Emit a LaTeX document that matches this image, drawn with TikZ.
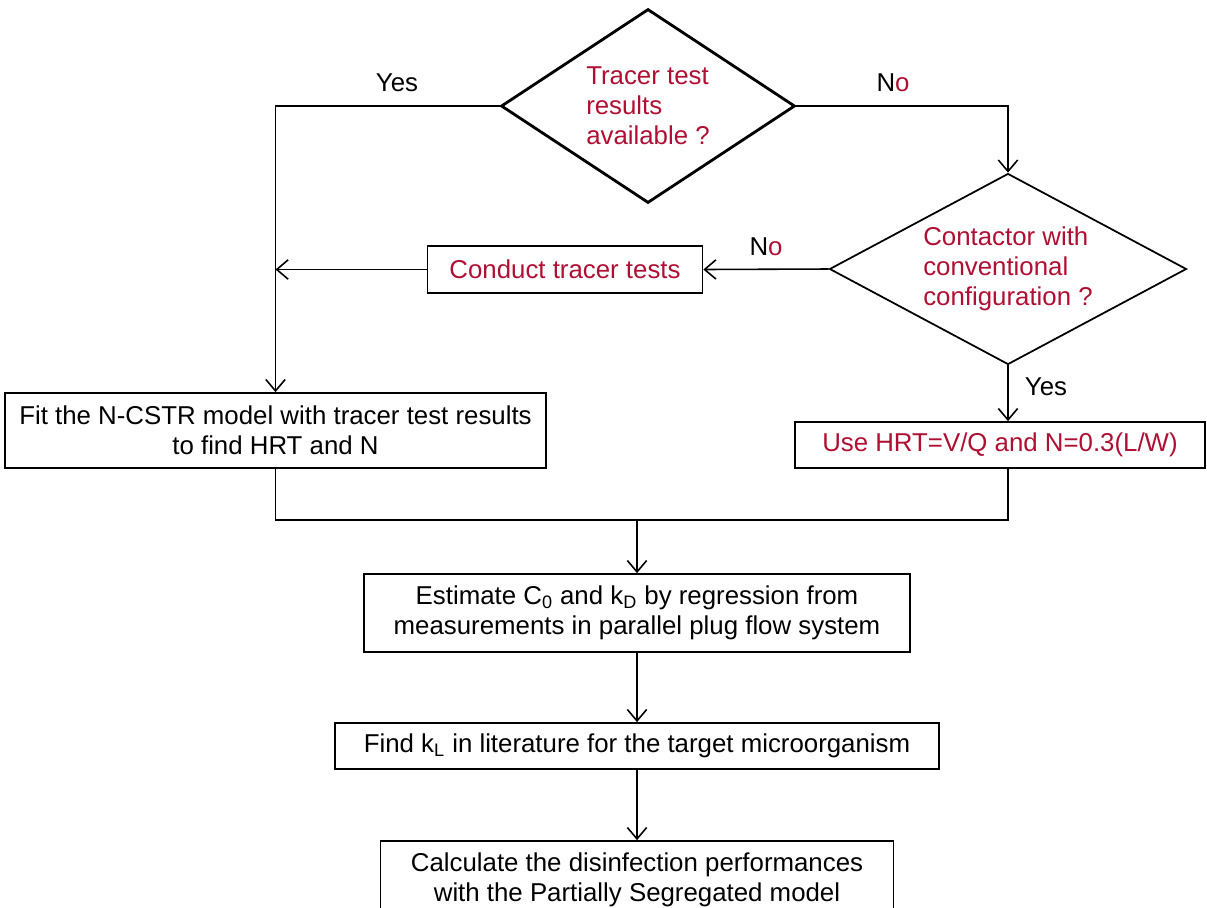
\documentclass[tikz,border=0pt]{standalone}
\usepackage{fontspec}
\setmainfont{Liberation Sans}
\usetikzlibrary{arrows.meta,shapes.geometric}
\definecolor{tred}{RGB}{175,15,50}
\newcommand{\fs}{\fontsize{14.7}{17}\selectfont}

\begin{document}
\begin{tikzpicture}[x=0.02cm, y=-0.02cm, font=\fs,
	box/.style={draw, line width=1pt, align=center, inner sep=0pt},
	decision/.style={draw, diamond, align=left, inner sep=0pt, text=tred},
	flow/.style={line width=0.9pt, -{Straight Barb[length=6.5pt,width=11pt]}},
	lbl/.style={inner sep=0pt}]
	\useasboundingbox (0,0) rectangle (1207,907);
	
	% Decisions
	\node[decision, line width=1.6pt, aspect=1.515, minimum width=5.88cm, minimum height=3.88cm] (tracer) at (648,106)
		{Tracer test\\results\\available ?};
	\node[decision, line width=1pt, aspect=1.864, minimum width=7.14cm, minimum height=3.82cm] (contactor) at (1008,269)
		{Contactor with\\conventional\\configuration ?};
	
	% Boxes
	\node[box, text=tred, minimum width=5.5cm, minimum height=0.94cm] (conduct) at (565,269.5) {Conduct tracer tests};
	\node[box, minimum width=10.82cm, minimum height=1.5cm] (fit) at (275.5,430.5)
		{Fit the N-CSTR model with tracer test results\\to find HRT and N};
	\node[box, text=tred, minimum width=8.2cm, minimum height=0.92cm] (use) at (1000,445) {Use HRT=V/Q and N=0.3(L/W)};
	\node[box, minimum width=10.92cm, minimum height=1.56cm] (estimate) at (637,613)
		{Estimate C\textsubscript{0} and k\textsubscript{D} by regression from\\measurements in parallel plug flow system};
	\node[box, minimum width=12.08cm, minimum height=0.92cm] (find) at (637,746)
		{Find k\textsubscript{L} in literature for the target microorganism};
	\node[box, minimum width=10.26cm, minimum height=1.56cm] (calc) at (637,880)
		{Calculate the disinfection performances\\with the Partially Segregated model};
	
	% Labels
	\node[lbl] (yes1) at (397,83) {Yes};
	\node[lbl] (no1) at (893,83) {N\textcolor{tred}{o}};
	\node[lbl] (no2) at (766,247) {N\textcolor{tred}{o}};
	\node[lbl] (yes2) at (1046,387) {Yes};
	
	% Connectors
	\coordinate (join) at (637,520);
	\draw[flow] (tracer.west) -| (fit.north);
	\draw[flow] (tracer.east) -| (contactor.north);
	\draw[flow] (contactor.west) -- (conduct.east);
	\draw[flow] (conduct.west) -- (conduct.west -| fit.north);
	\draw[flow] (contactor.south) -- (contactor.south |- use.north);
	\draw[line width=0.9pt] (fit.south) |- (join) -| (use.south -| contactor.south) -- (contactor.south |- use.south);
	\draw[flow] (join) -- (estimate.north);
	\draw[flow] (estimate.south) -- (find.north);
	\draw[flow] (find.south) -- (calc.north);
\end{tikzpicture}
\end{document}
